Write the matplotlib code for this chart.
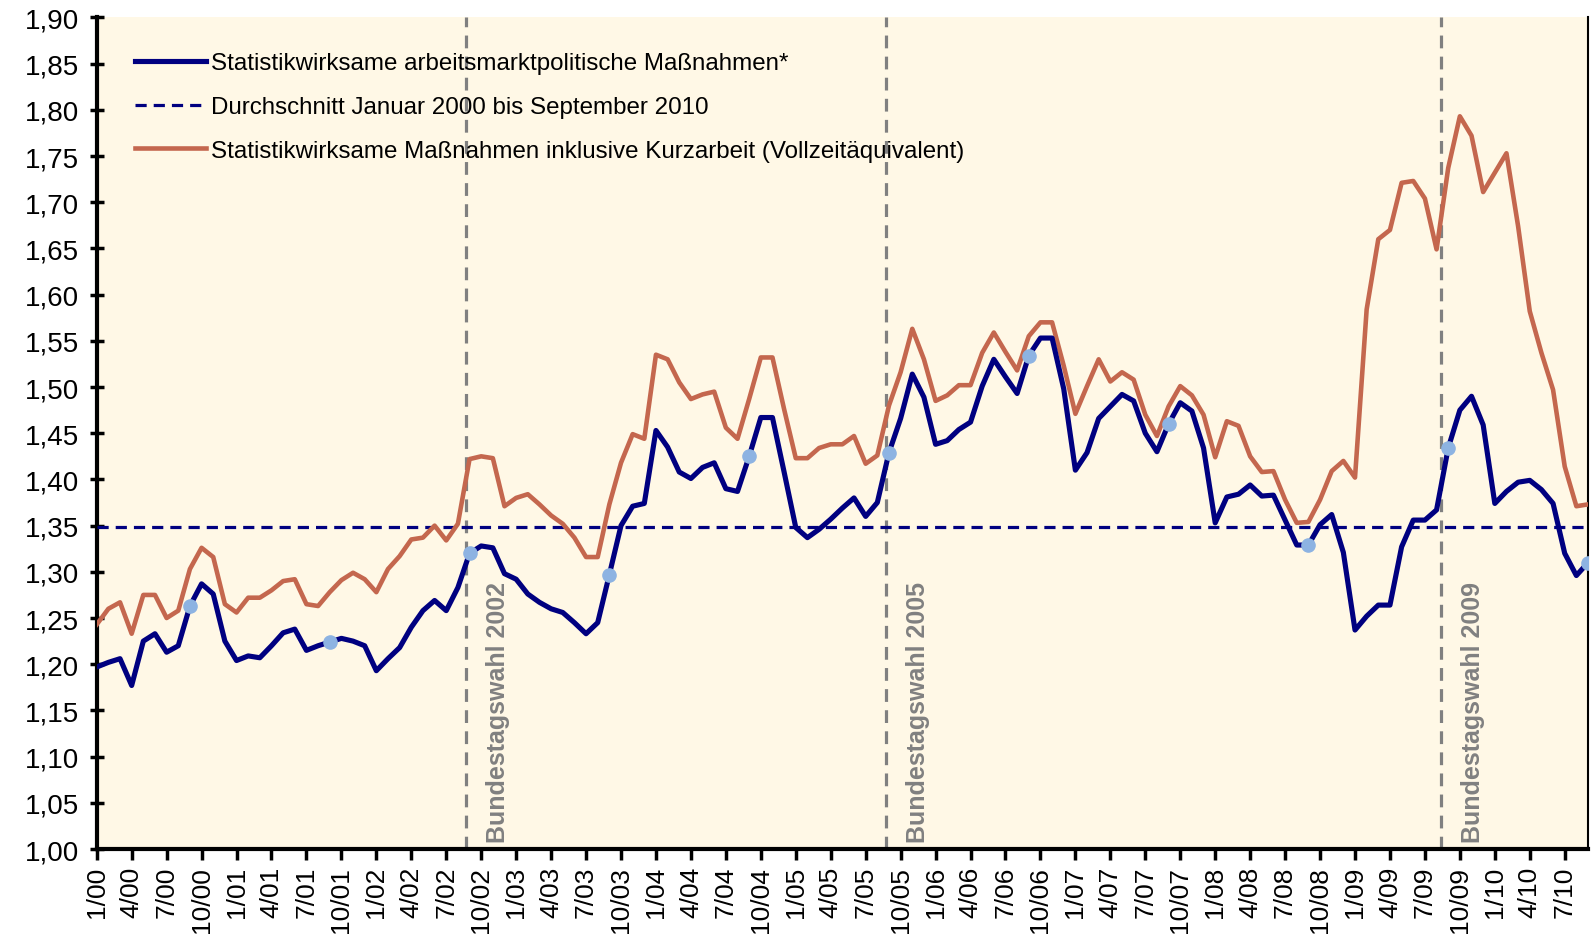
import numpy as np
import matplotlib
matplotlib.use("Agg")
import matplotlib.pyplot as plt
import matplotlib.transforms as mtransforms
from matplotlib.ticker import FuncFormatter, MultipleLocator

plt.rcParams['font.family'] = ['Liberation Sans', 'DejaVu Sans']

# monthly values, January 2000 .. September 2010 (in millions)
massnahmen = [
    1.197, 1.202, 1.206, 1.177, 1.225, 1.233, 1.213, 1.220, 1.263, 1.287, 1.276, 1.225,
    1.204, 1.209, 1.207, 1.220, 1.234, 1.238, 1.215, 1.220, 1.224, 1.228, 1.225, 1.220,
    1.193, 1.206, 1.218, 1.240, 1.258, 1.269, 1.258, 1.283, 1.320, 1.328, 1.326, 1.298,
    1.292, 1.276, 1.267, 1.260, 1.256, 1.245, 1.233, 1.245, 1.297, 1.350, 1.371, 1.374,
    1.453, 1.435, 1.408, 1.401, 1.413, 1.418, 1.390, 1.387, 1.425, 1.467, 1.467, 1.408,
    1.348, 1.337, 1.346, 1.357, 1.369, 1.380, 1.360, 1.375, 1.429, 1.466, 1.514, 1.489,
    1.438, 1.442, 1.454, 1.462, 1.501, 1.530, 1.511, 1.493, 1.534, 1.553, 1.553, 1.498,
    1.410, 1.429, 1.466, 1.479, 1.492, 1.485, 1.450, 1.430, 1.460, 1.483, 1.474, 1.434,
    1.353, 1.381, 1.384, 1.394, 1.382, 1.383, 1.356, 1.329, 1.329, 1.351, 1.362, 1.321,
    1.237, 1.252, 1.264, 1.264, 1.327, 1.356, 1.356, 1.367, 1.434, 1.475, 1.490, 1.459,
    1.374, 1.387, 1.397, 1.399, 1.389, 1.374, 1.320, 1.296, 1.310,
]
mit_kurzarbeit = [
    1.243, 1.260, 1.267, 1.233, 1.275, 1.275, 1.250, 1.258, 1.303, 1.326, 1.316, 1.265,
    1.256, 1.272, 1.272, 1.280, 1.290, 1.292, 1.265, 1.263, 1.278, 1.291, 1.299, 1.292,
    1.278, 1.303, 1.317, 1.335, 1.337, 1.350, 1.334, 1.352, 1.422, 1.425, 1.423, 1.371,
    1.380, 1.384, 1.373, 1.361, 1.352, 1.337, 1.316, 1.316, 1.373, 1.418, 1.449, 1.444,
    1.535, 1.530, 1.505, 1.487, 1.492, 1.495, 1.456, 1.444, 1.487, 1.532, 1.532, 1.476,
    1.423, 1.423, 1.434, 1.438, 1.438, 1.447, 1.417, 1.426, 1.480, 1.516, 1.563, 1.530,
    1.485, 1.491, 1.502, 1.502, 1.537, 1.559, 1.538, 1.518, 1.555, 1.570, 1.570, 1.523,
    1.471, 1.501, 1.530, 1.506, 1.516, 1.508, 1.470, 1.447, 1.479, 1.501, 1.491, 1.470,
    1.424, 1.463, 1.458, 1.425, 1.408, 1.409, 1.378, 1.353, 1.354, 1.378, 1.409, 1.420,
    1.402, 1.584, 1.660, 1.670, 1.721, 1.723, 1.704, 1.649, 1.737, 1.793, 1.772, 1.711,
    1.732, 1.753, 1.674, 1.582, 1.537, 1.497, 1.414, 1.371, 1.373,
]
durchschnitt = 1.349

# month labels "1/00" ... "9/10"
monate = [f"{m}/{y:02d}" for y in range(0, 11) for m in range(1, 13)][:len(massnahmen)]

# elections (position on the monthly axis) and their labels
wahl_pos = [31.7, 67.75, 115.35]
wahl_text = ["Bundestagswahl 2002", "Bundestagswahl 2005", "Bundestagswahl 2009"]

navy = '#000080'
orange = '#C4674E'
marker_blue = '#8DB3E2'

x = np.arange(len(massnahmen))

fig = plt.figure(figsize=(15.96, 9.45), dpi=100)
ax = fig.add_axes([0.0606, 0.1005, 0.9344, 0.880])
ax.set_facecolor('#FFF8E6')

for pos, txt in zip(wahl_pos, wahl_text):
    ax.axvline(pos, color='#808080', lw=2.3, ls=(0, (4, 2.6)), zorder=1)
    trans = mtransforms.blended_transform_factory(ax.transData, ax.transAxes)
    ax.annotate(txt, xy=(pos, 0.0), xycoords=trans, xytext=(23, 5),
                textcoords='offset points', rotation=90, ha='center', va='bottom',
                color='#808080', fontsize=18, fontweight='bold', zorder=2)

ax.plot(x, massnahmen, color=navy, lw=3.7, zorder=4,
        label='Statistikwirksame arbeitsmarktpolitische Maßnahmen*')
ax.axhline(durchschnitt, color=navy, lw=2.3, ls=(0, (3.5, 2.2)), zorder=3,
           label='Durchschnitt Januar 2000 bis September 2010')
ax.plot(x, mit_kurzarbeit, color=orange, lw=3.3, zorder=3,
        label='Statistikwirksame Maßnahmen inklusive Kurzarbeit (Vollzeitäquivalent)')

# September markers on the blue line
sep_idx = [i for i, m in enumerate(monate) if m.startswith('9/')]
ax.plot(x[sep_idx], np.array(massnahmen)[sep_idx], ls='none', marker='o',
        ms=9.5, color=marker_blue, zorder=5)

ax.set_xlim(0, len(massnahmen) - 1)
ax.set_ylim(1.0, 1.9)
ax.yaxis.set_major_locator(MultipleLocator(0.05))
ax.yaxis.set_major_formatter(FuncFormatter(lambda v, p: f"{v:.2f}".replace('.', ',')))
ax.set_xticks(x[::3])
ax.set_xticklabels(monate[::3], rotation=90)

ax.tick_params(axis='y', direction='inout', length=10, width=2.5, labelsize=20, pad=8)
ax.tick_params(axis='x', direction='out', length=8, width=2.5, labelsize=19, pad=4)
for side in ['left', 'bottom']:
    ax.spines[side].set_linewidth(3)
ax.spines['right'].set_linewidth(1.5)
ax.spines['top'].set_visible(False)

ax.legend(loc='upper left', bbox_to_anchor=(0.0257, 0.958), frameon=False,
          fontsize=17.4, handlelength=2.95, handletextpad=0.2, labelspacing=0.9,
          borderpad=0, borderaxespad=0)

fig.savefig('out.png', dpi=100)
